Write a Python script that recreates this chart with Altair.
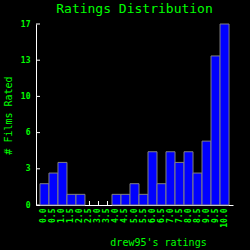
import altair as alt
import pandas as pd

ratings = ["0.0", "0.5", "1.0", "1.5", "2.0", "2.5", "3.0", "3.5", "4.0", "4.5",
           "5.0", "5.5", "6.0", "6.5", "7.0", "7.5", "8.0", "8.5", "9.0", "9.5", "10.0"]
counts = [2, 3, 4, 1, 1, 0, 0, 0, 1, 1, 2, 1, 5, 2, 5, 4, 5, 3, 6, 14, 17]
y_ticks = [0, 3.4, 6.8, 10.2, 13.6, 17]

GREEN = "#00ff00"
FONT = "DejaVu Sans Mono"
W, H = 197, 181

df = pd.DataFrame({"rating": ratings, "count": counts})
ydf = pd.DataFrame({"v": y_ticks})

xscale = alt.Scale(domain=ratings, paddingInner=0, paddingOuter=0.44)
yscale = alt.Scale(domain=[0, 17], nice=False)

xaxis = alt.Axis(title="drew95's ratings", labelAngle=270, labelPadding=3,
                 titleX=122, titleY=40, titleAlign="center", titleBaseline="alphabetic",
                 titleFontSize=10, titleFontWeight="normal",
                 labelFontSize=8, labelFontWeight="bold")
yaxis = alt.Axis(title="# Films Rated", values=y_ticks, labelExpr="floor(datum.value)",
                 labelPadding=6, titleX=-28, titleY=91, titleAngle=270,
                 titleAlign="center", titleBaseline="middle",
                 titleFontSize=10, titleFontWeight="normal",
                 labelFontSize=8, labelFontWeight="bold")

xticks = alt.Chart(df).mark_rule(color="white", strokeWidth=1).encode(
    x=alt.X("rating:N", scale=xscale, axis=xaxis, sort=ratings),
    y=alt.value(H), y2=alt.value(H - 4))

yticks = alt.Chart(ydf).mark_rule(color="white", strokeWidth=1).encode(
    y=alt.Y("v:Q", scale=yscale, axis=yaxis),
    x=alt.value(0), x2=alt.value(4))

bars = alt.Chart(df).transform_filter("datum.count > 0").mark_bar(
    color="#0000ff", stroke="#808080", strokeWidth=1).encode(
    x=alt.X("rating:N", scale=xscale, axis=xaxis, sort=ratings),
    y=alt.Y("count:Q", scale=yscale, axis=yaxis))

chart = alt.layer(xticks, yticks, bars).properties(
    width=W, height=H,
    title=alt.Title("Ratings Distribution", color=GREEN, font=FONT, fontSize=13,
                    fontWeight="normal", anchor="middle", baseline="alphabetic",
                    offset=-6),
    background="black",
    autosize=alt.AutoSizeParams(type="none"),
    padding={"left": 36, "top": 24, "right": 17, "bottom": 45},
).configure_view(stroke=None).configure_axis(
    domainColor="white", domainWidth=1, ticks=False, tickSize=0, grid=False,
    labelColor=GREEN, titleColor=GREEN, labelFont=FONT, titleFont=FONT,
)

chart.save("out.html", embed_options={"renderer": "svg", "actions": False})
